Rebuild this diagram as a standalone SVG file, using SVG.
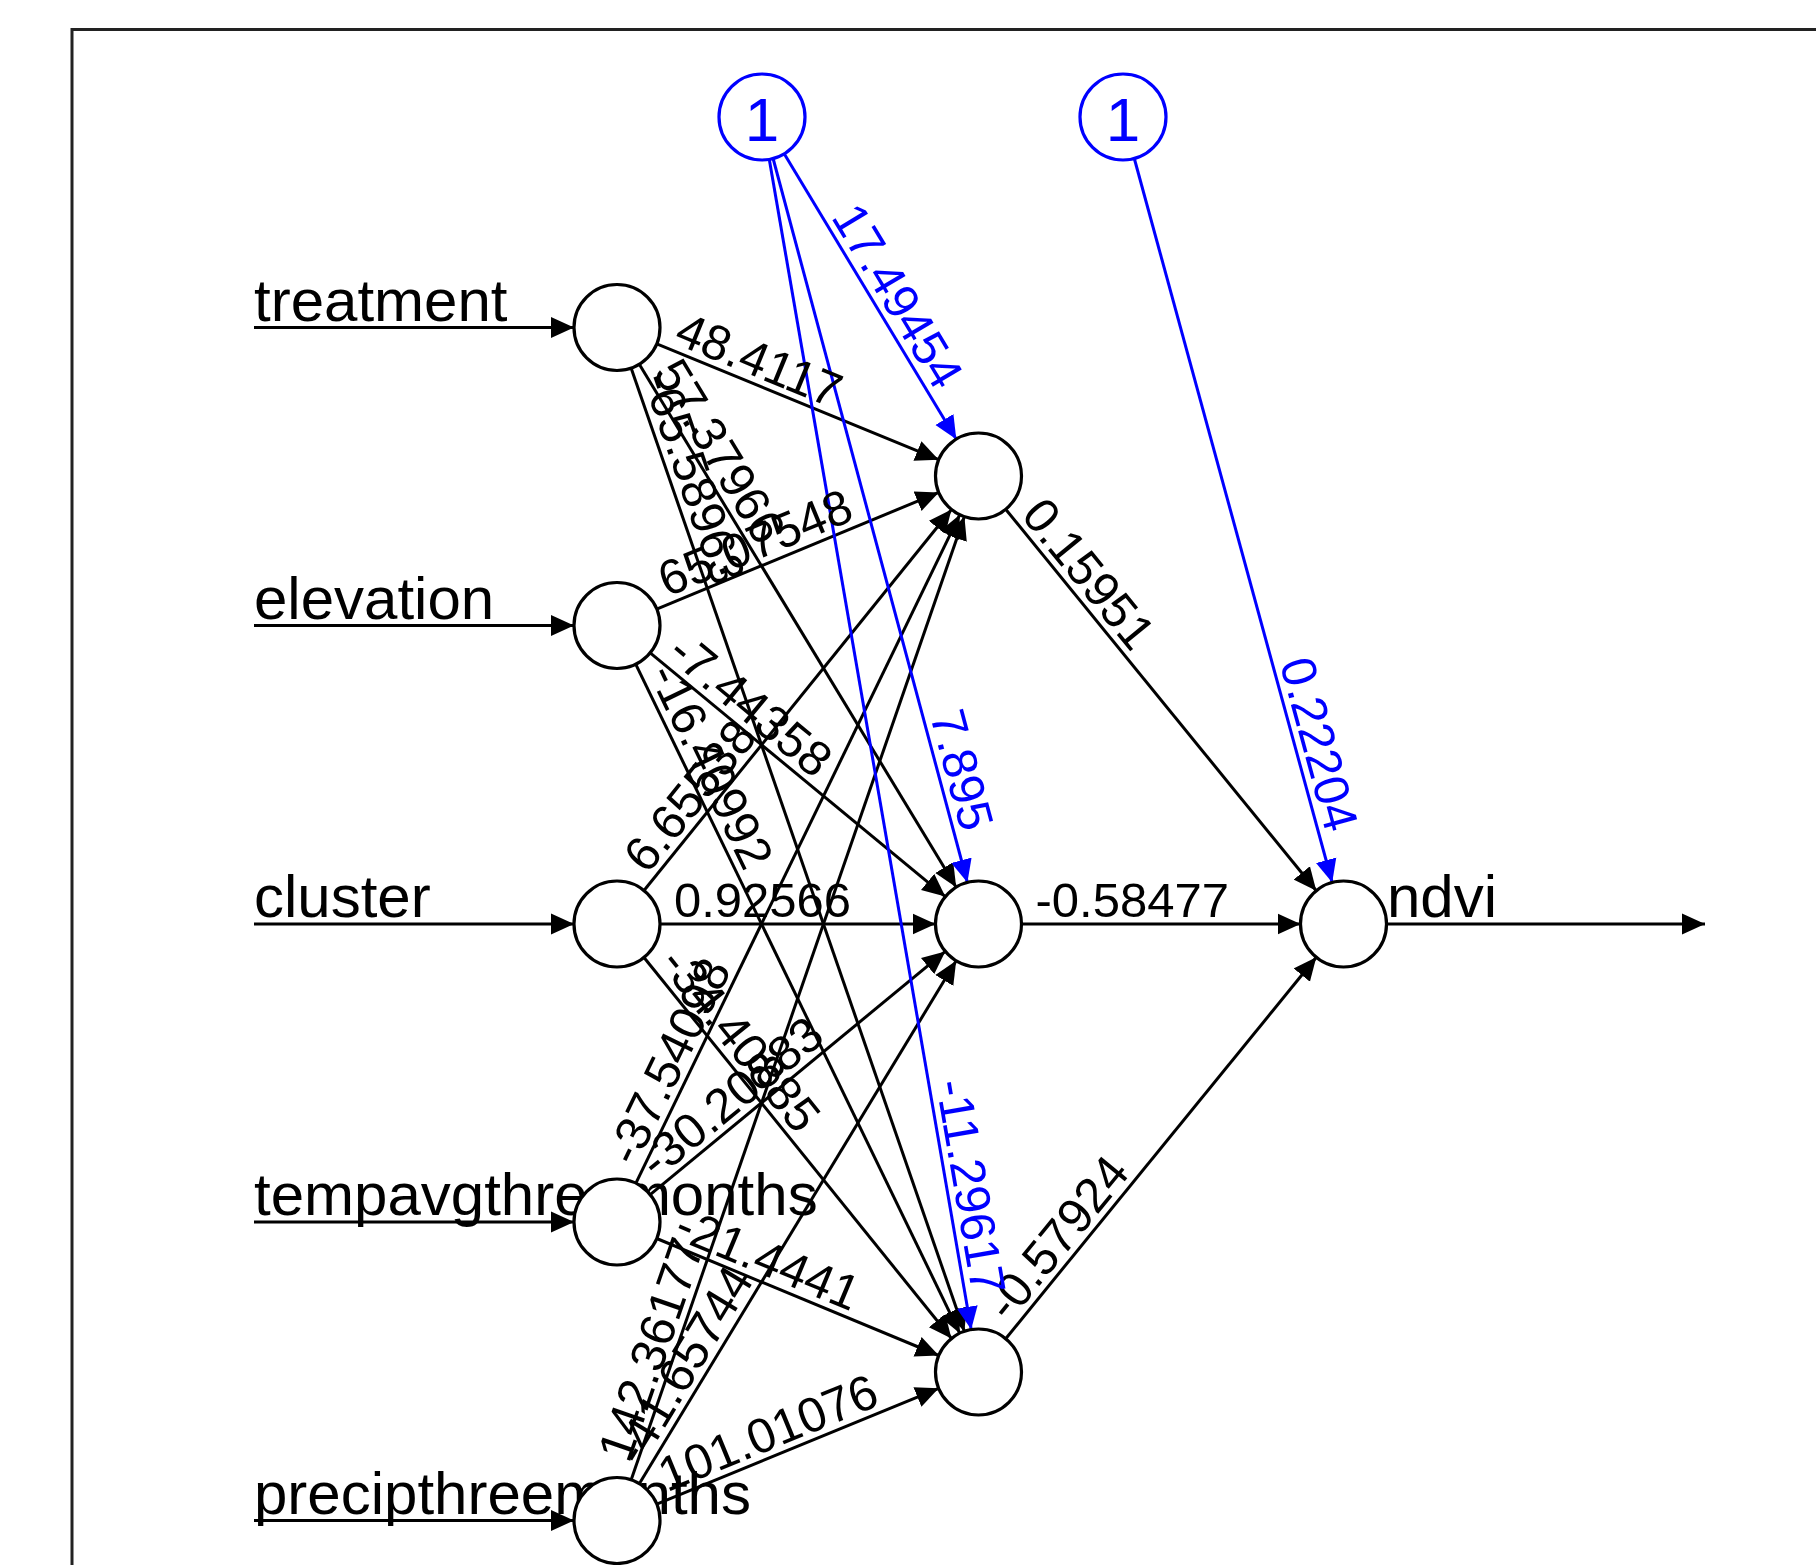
<svg xmlns="http://www.w3.org/2000/svg" width="1816" height="1565" viewBox="0 0 1816 1565">
<defs>
<marker id="ak" markerUnits="userSpaceOnUse" markerWidth="24" markerHeight="22" viewBox="0 0 24 22" refX="23" refY="11" orient="auto"><path d="M0,0.5 L23,11 L0,21.5 z" fill="#000"/></marker>
<marker id="ab" markerUnits="userSpaceOnUse" markerWidth="24" markerHeight="22" viewBox="0 0 24 22" refX="23" refY="11" orient="auto"><path d="M0,0.5 L23,11 L0,21.5 z" fill="#0000ff"/></marker>
<style>
.n{fill:#fff;stroke:#000;stroke-width:3.2}
.b{fill:#fff;stroke:#0000ff;stroke-width:3.2}
.k{stroke:#000;stroke-width:3;fill:none;marker-end:url(#ak)}
.u{stroke:#0000ff;stroke-width:3;fill:none;marker-end:url(#ab)}
.lb{font-family:"Liberation Sans",Arial,sans-serif;font-size:60px;fill:#000}
.w{font-family:"Liberation Sans",Arial,sans-serif;font-size:49px;fill:#000}
.wb{font-family:"Liberation Sans",Arial,sans-serif;font-size:49px;fill:#0000ff}
.one{font-family:"Liberation Sans",Arial,sans-serif;font-size:62px;fill:#0000ff;text-anchor:middle}
</style>
</defs>
<rect width="1816" height="1565" fill="#fff"/>
<rect x="72" y="29.5" width="1800" height="1600" fill="none" stroke="#222" stroke-width="3"/>

<g id="connectors">
<line class="k" x1="254" y1="327.5" x2="574" y2="327.5"/>
<line class="k" x1="254" y1="625.5" x2="574" y2="625.5"/>
<line class="k" x1="254" y1="924" x2="574" y2="924"/>
<line class="k" x1="254" y1="1222" x2="574" y2="1222"/>
<line class="k" x1="254" y1="1520.5" x2="574" y2="1520.5"/>
<line class="k" x1="656.8" y1="343.8" x2="938.7" y2="459.7"/>
<line class="k" x1="639.3" y1="364.3" x2="956.2" y2="887.2"/>
<line class="k" x1="631.1" y1="368.1" x2="964.4" y2="1331.4"/>
<line class="k" x1="656.7" y1="609.1" x2="938.8" y2="492.4"/>
<line class="k" x1="650.2" y1="652.9" x2="945.3" y2="896.6"/>
<line class="k" x1="635.7" y1="664.2" x2="959.8" y2="1333.3"/>
<line class="k" x1="644.0" y1="890.5" x2="951.5" y2="509.5"/>
<line class="k" x1="660" y1="924" x2="935.5" y2="924"/>
<line class="k" x1="644.0" y1="957.5" x2="951.5" y2="1338.5"/>
<line class="k" x1="635.8" y1="1183.3" x2="959.8" y2="514.7"/>
<line class="k" x1="650.2" y1="1194.6" x2="945.3" y2="951.4"/>
<line class="k" x1="656.7" y1="1238.5" x2="938.8" y2="1355.5"/>
<line class="k" x1="631.1" y1="1479.9" x2="964.4" y2="516.6"/>
<line class="k" x1="639.3" y1="1483.7" x2="956.2" y2="960.8"/>
<line class="k" x1="656.8" y1="1504.2" x2="938.7" y2="1388.3"/>
<line class="k" x1="1005.7" y1="509.3" x2="1316.3" y2="890.7"/>
<line class="k" x1="1021.5" y1="924" x2="1300.5" y2="924"/>
<line class="k" x1="1005.7" y1="1338.7" x2="1316.3" y2="957.3"/>
<line class="k" x1="1386.5" y1="924" x2="1705" y2="924"/>
<line class="u" x1="784.2" y1="153.8" x2="956.3" y2="439.2"/>
<line class="u" x1="773.1" y1="158.5" x2="967.4" y2="882.5"/>
<line class="u" x1="769.3" y1="159.4" x2="971.2" y2="1329.6"/>
<line class="u" x1="1134.3" y1="158.5" x2="1332.2" y2="882.5"/>
</g>

<g id="weights">
<text class="w" transform="translate(672.4,342.7) rotate(22.33)">48.4117</text>
<text class="w" transform="translate(652.5,372.6) rotate(58.78)">57.37966</text>
<text class="w" transform="translate(642.3,379.1) rotate(70.9)">-65.58963</text>
<text class="w" transform="translate(667.0,597.2) rotate(-22.47)">65.07548</text>
<text class="w" transform="translate(665.4,656.4) rotate(39.55)">-7.44358</text>
<text class="w" transform="translate(648.2,673.8) rotate(64.16)">-16.40992</text>
<text class="w" transform="translate(647.3,875.2) rotate(-51.1)">6.65538</text>
<text class="w" transform="translate(674,917)">0.92566</text>
<text class="w" transform="translate(658.2,964.0) rotate(51.1)">-34.40885</text>
<text class="w" transform="translate(635.6,1167.7) rotate(-64.15)">-37.54098</text>
<text class="w" transform="translate(656.5,1180.3) rotate(-39.5)">-30.20883</text>
<text class="w" transform="translate(672.3,1237.4) rotate(22.54)">-21.4441</text>
<text class="w" transform="translate(629.0,1464.3) rotate(-70.9)">142.36177</text>
<text class="w" transform="translate(640.6,1468.1) rotate(-58.78)">-41.65744</text>
<text class="w" transform="translate(667.1,1492.4) rotate(-22.33)">101.01076</text>
<text class="w" transform="translate(1019.9,515.8) rotate(50.83)">0.15951</text>
<text class="w" transform="translate(1035.5,917)">-0.58477</text>
<text class="w" transform="translate(1009.1,1323.4) rotate(-50.83)">-0.57924</text>
<text class="wb" transform="translate(830.5,217.0) rotate(58.9)">17.49454</text>
<text class="wb" transform="translate(929.7,715.0) rotate(74.98)">7.895</text>
<text class="wb" transform="translate(935.7,1082.6) rotate(80.21)">-11.29617</text>
<text class="wb" transform="translate(1279.5,663.1) rotate(74.72)">0.22204</text>
</g>

<g id="node-treatment"><text class="lb" x="254" y="320.5">treatment</text><circle class="n" cx="617" cy="327.5" r="43"/></g>
<g id="node-elevation"><text class="lb" x="254" y="618.5">elevation</text><circle class="n" cx="617" cy="625.5" r="43"/></g>
<g id="node-cluster"><text class="lb" x="254" y="917">cluster</text><circle class="n" cx="617" cy="924" r="43"/></g>
<g id="node-tempavgthreemonths"><text class="lb" x="254" y="1215">tempavgthreemonths</text><circle class="n" cx="617" cy="1222" r="43"/></g>
<g id="node-precipthreemonths"><text class="lb" x="254" y="1513.5">precipthreemonths</text><circle class="n" cx="617" cy="1520.5" r="43"/></g>
<g id="node-hidden1"><circle class="n" cx="978.5" cy="476" r="43"/></g>
<g id="node-hidden2"><circle class="n" cx="978.5" cy="924" r="43"/></g>
<g id="node-hidden3"><circle class="n" cx="978.5" cy="1372" r="43"/></g>
<g id="node-ndvi"><circle class="n" cx="1343.5" cy="924" r="43"/><text class="lb" x="1387" y="917">ndvi</text></g>
<g id="node-bias1"><circle class="b" cx="762" cy="117" r="43"/><text class="one" x="762" y="141">1</text></g>
<g id="node-bias2"><circle class="b" cx="1123" cy="117" r="43"/><text class="one" x="1123" y="141">1</text></g>
</svg>
